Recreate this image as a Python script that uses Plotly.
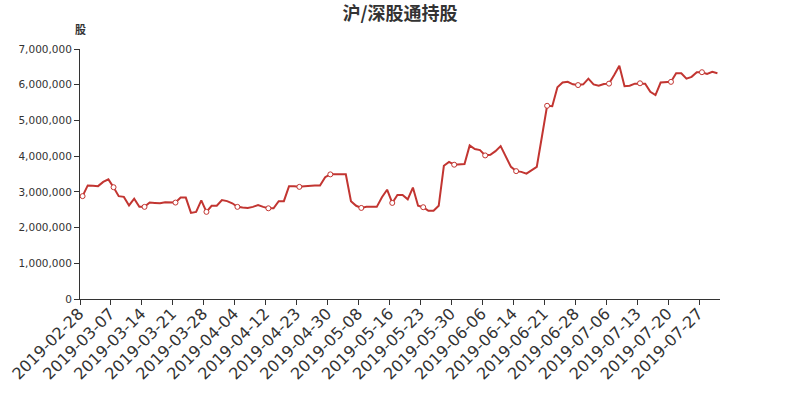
import plotly.graph_objects as go

tick_dates = ["2019-02-28", "2019-03-07", "2019-03-14", "2019-03-21", "2019-03-28",
              "2019-04-04", "2019-04-12", "2019-04-23", "2019-04-30", "2019-05-08",
              "2019-05-16", "2019-05-23", "2019-05-30", "2019-06-06", "2019-06-14",
              "2019-06-21", "2019-06-28", "2019-07-06", "2019-07-13", "2019-07-20",
              "2019-07-27"]

# holdings in millions of shares, one value per trading record (124 records)
holdings_m = [
    2.88, 3.18, 3.17, 3.16, 3.28, 3.35,
    3.13, 2.88, 2.86, 2.62, 2.81, 2.58,
    2.58, 2.70, 2.69, 2.68, 2.71, 2.70,
    2.70, 2.84, 2.84, 2.41, 2.44, 2.76,
    2.44, 2.61, 2.61, 2.77, 2.74, 2.68,
    2.58, 2.56, 2.55, 2.58, 2.63, 2.58,
    2.54, 2.54, 2.74, 2.74, 3.16, 3.16,
    3.14, 3.16, 3.18, 3.18, 3.18, 3.41,
    3.49, 3.49, 3.49, 3.49, 2.74, 2.61,
    2.55, 2.58, 2.58, 2.58, 2.85, 3.06,
    2.69, 2.91, 2.91, 2.79, 3.12, 2.61,
    2.57, 2.47, 2.47, 2.61, 3.73, 3.84,
    3.76, 3.78, 3.78, 4.30, 4.20, 4.17,
    4.02, 4.04, 4.14, 4.28, 4.00, 3.70,
    3.58, 3.56, 3.51, 3.61, 3.70, 4.55,
    5.41, 5.40, 5.93, 6.06, 6.08, 6.01,
    5.99, 6.01, 6.17, 6.01, 5.97, 6.02,
    6.03, 6.27, 6.53, 5.96, 5.97, 6.03,
    6.04, 6.03, 5.80, 5.71, 6.06, 6.08,
    6.08, 6.32, 6.32, 6.17, 6.22, 6.35,
    6.35, 6.30, 6.36, 6.32,
]

values = [v * 1_000_000 for v in holdings_m]
idx = list(range(len(values)))
label_step = 6
mark_idx = idx[::label_step]
mark_vals = values[::label_step]

color = "#c23531"
fig = go.Figure()
fig.add_trace(go.Scatter(x=idx, y=values, mode="lines",
                         line=dict(color=color, width=2), hoverinfo="skip"))
fig.add_trace(go.Scatter(x=mark_idx, y=mark_vals, mode="markers",
                         marker=dict(symbol="circle", size=5, color="white",
                                     line=dict(color=color, width=1)),
                         hoverinfo="skip"))

fig.update_layout(
    width=800, height=400,
    margin=dict(l=80, r=80, t=49, b=101),
    paper_bgcolor="white", plot_bgcolor="white",
    showlegend=False,
    font=dict(family="DejaVu Sans, Noto Sans CJK SC, sans-serif", color="#333"),
    title=dict(text="<b>沪/深股通持股</b>", x=0.5, xanchor="center", y=0.965, yanchor="middle",
               font=dict(size=18, color="#333", family="Noto Sans CJK SC, sans-serif")),
)
fig.add_annotation(text="<b>股</b>", xref="paper", yref="paper", x=0, y=1.08, xanchor="center",
                   yanchor="middle", showarrow=False,
                   font=dict(size=11, color="#333", family="Noto Sans CJK SC, sans-serif"))

fig.update_xaxes(
    automargin=False,
    range=[-0.5, len(values) - 0.5],
    tickmode="array",
    tickvals=[i - 0.5 for i in mark_idx],
    ticktext=tick_dates,
    tickangle=-45,
    ticklabelshift=-1,
    ticklabelstandoff=-7,
    ticks="outside", ticklen=5, tickcolor="#333",
    showline=True, linecolor="#333", linewidth=1,
    showgrid=False, zeroline=False,
    tickfont=dict(size=16, color="#333", family="DejaVu Sans, sans-serif"),
)
fig.update_yaxes(
    automargin=False,
    range=[0, 7_000_000], dtick=1_000_000, tickformat=",d",
    ticks="outside", ticklen=5, tickcolor="#333",
    showline=True, linecolor="#333", linewidth=1,
    showgrid=False, zeroline=False,
    tickfont=dict(size=10.5, color="#333", family="DejaVu Sans, sans-serif"),
)

fig.write_html("out.html", config={"displayModeBar": False},
               post_script="document.body.style.margin='0';")
